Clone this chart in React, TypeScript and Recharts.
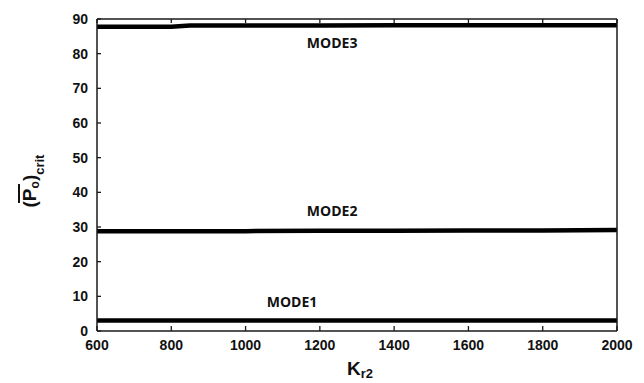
import { LineChart, Line, XAxis, YAxis, ReferenceDot } from 'recharts'

// K_r2 sample points and critical load for the three modes
const kr2 = [600, 800, 850, 1000, 1200, 1400, 1600, 1800, 2000]
const mode1 = [3.0, 3.0, 3.0, 3.0, 3.0, 3.0, 3.0, 3.0, 3.0]
const mode2 = [28.8, 28.8, 28.8, 28.8, 28.9, 28.9, 29.0, 29.0, 29.1]
const mode3 = [87.8, 87.8, 88.1, 88.1, 88.1, 88.2, 88.2, 88.2, 88.2]

const xTicks = [600, 800, 1000, 1200, 1400, 1600, 1800, 2000]
const yTicks = [0, 10, 20, 30, 40, 50, 60, 70, 80, 90]

const modeNames = ['MODE1', 'MODE2', 'MODE3']
const modeLabelX = [1125, 1233, 1233]
const modeLabelY = [8.5, 34.5, 83.2]

const data = kr2.map((k, i) => ({ kr2: k, mode1: mode1[i], mode2: mode2[i], mode3: mode3[i] }))

const AXIS = '#1a1a1a'
const TICK_FONT = '"Liberation Sans", Arial, sans-serif'
const MODE_FONT = '"Open Sans", "Noto Sans", sans-serif'

function BottomTick(props: any) {
  const { x, y, payload } = props
  return (
    <g>
      <line x1={x} y1={y} x2={x} y2={y - 5} stroke={AXIS} strokeWidth={1.3} />
      <text x={x} y={y + 19} textAnchor="middle" fontSize={14} fontWeight="bold" fontFamily={TICK_FONT} fill="#111">
        {payload.value}
      </text>
    </g>
  )
}

function TopTick(props: any) {
  const { x, y } = props
  return <line x1={x} y1={y} x2={x} y2={y + 4} stroke={AXIS} strokeWidth={1.3} />
}

function LeftTick(props: any) {
  const { x, y, payload } = props
  return (
    <g>
      <line x1={x} y1={y} x2={x + 4} y2={y} stroke={AXIS} strokeWidth={1.3} />
      <text x={x - 9} y={y + 5} textAnchor="end" fontSize={14} fontWeight="bold" fontFamily={TICK_FONT} fill="#111">
        {payload.value}
      </text>
    </g>
  )
}

export default function App() {
  return (
    <div style={{ position: 'absolute', left: 0, top: 0, background: '#fff' }}>
      <LineChart width={644} height={383} data={data} margin={{ top: 18, right: 26, bottom: 22, left: 37 }}>
        <XAxis
          xAxisId="bottom"
          dataKey="kr2"
          type="number"
          domain={[600, 2000]}
          ticks={xTicks}
          tickSize={0}
          tickMargin={0}
          tickLine={false}
          tick={BottomTick}
          height={30}
          axisLine={{ stroke: AXIS, strokeWidth: 1.5 }}
        />
        <XAxis
          xAxisId="top"
          orientation="top"
          dataKey="kr2"
          type="number"
          domain={[600, 2000]}
          ticks={xTicks}
          tickSize={0}
          tickMargin={0}
          tickLine={false}
          tick={TopTick}
          height={1}
          axisLine={{ stroke: AXIS, strokeWidth: 1.5 }}
        />
        <YAxis
          yAxisId="left"
          type="number"
          domain={[0, 90]}
          ticks={yTicks}
          tickSize={0}
          tickMargin={0}
          tickLine={false}
          tick={LeftTick}
          width={60}
          axisLine={{ stroke: AXIS, strokeWidth: 1.5 }}
        />
        <YAxis
          yAxisId="right"
          orientation="right"
          type="number"
          domain={[0, 90]}
          tick={false}
          tickLine={false}
          width={1}
          axisLine={{ stroke: AXIS, strokeWidth: 1.5 }}
        />
        <Line xAxisId="bottom" yAxisId="left" dataKey="mode1" stroke="#000" strokeWidth={4.5} dot={false} isAnimationActive={false} />
        <Line xAxisId="bottom" yAxisId="left" dataKey="mode2" stroke="#000" strokeWidth={4.5} dot={false} isAnimationActive={false} />
        <Line xAxisId="bottom" yAxisId="left" dataKey="mode3" stroke="#000" strokeWidth={4.5} dot={false} isAnimationActive={false} />
        {modeNames.map((name, i) => (
          <ReferenceDot
            key={name}
            xAxisId="bottom"
            yAxisId="left"
            x={modeLabelX[i]}
            y={modeLabelY[i]}
            r={0}
            stroke="none"
            label={{ value: name, position: 'center', fontSize: 14, fontWeight: 'bold', fontFamily: MODE_FONT, fill: '#111' }}
          />
        ))}
        <text x={360} y={375} textAnchor="middle" fontFamily={TICK_FONT} fontWeight="bold" fill="#111">
          <tspan fontSize={19}>K</tspan>
          <tspan fontSize={13} dy={3}>r2</tspan>
        </text>
        <g transform="translate(36,181) rotate(-90)">
          <text x={0} y={0} textAnchor="middle" fontFamily={TICK_FONT} fontWeight="bold" fill="#111">
            <tspan fontSize={19}>(P</tspan>
            <tspan fontSize={12} dy={3}>o</tspan>
            <tspan fontSize={19} dy={-3}>)</tspan>
            <tspan fontSize={13} dy={8}>crit</tspan>
          </text>
          <line x1={-22} y1={-17} x2={-3} y2={-17} stroke="#111" strokeWidth={2} />
        </g>
      </LineChart>
    </div>
  )
}
